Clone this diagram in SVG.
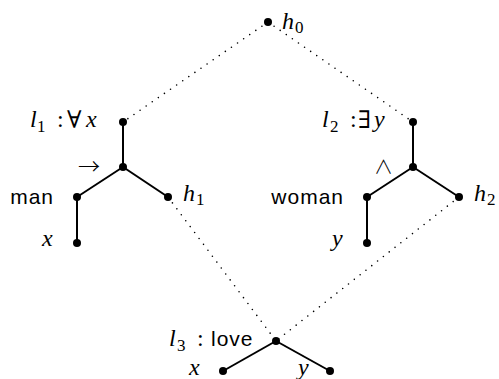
<svg xmlns="http://www.w3.org/2000/svg" width="499" height="379" viewBox="0 0 499 379">
<style>
.m{font-family:"Liberation Serif","DejaVu Serif",serif;font-size:24px;fill:#000}
.i{font-style:italic}
.sub{font-size:17px}
.sym{font-family:"DejaVu Serif","Liberation Serif",serif;font-size:24px}
.cjk{font-family:"Noto Sans CJK JP","DejaVu Sans",sans-serif;font-weight:300;fill:#000}
.s{font-family:"Liberation Sans","DejaVu Sans",sans-serif;font-size:21px;letter-spacing:1px;fill:#000}
.e{stroke:#000;stroke-width:2;fill:none}
.d{stroke:#000;stroke-width:1.6;fill:none;stroke-dasharray:0 7.4;stroke-linecap:round}
circle{fill:#000}
</style>
<rect width="499" height="379" fill="#fff"/>
<g id="connectors">
<line class="d" x1="268" y1="22" x2="123" y2="122"/>
<line class="d" x1="268" y1="22" x2="413" y2="122"/>
<line class="d" x1="168" y1="197" x2="276" y2="341"/>
<line class="d" x1="459" y1="197" x2="276" y2="341"/>
<line class="e" x1="123" y1="122" x2="123" y2="167"/>
<line class="e" x1="123" y1="167" x2="77" y2="197"/>
<line class="e" x1="123" y1="167" x2="168" y2="197"/>
<line class="e" x1="77" y1="197" x2="77" y2="243"/>
<line class="e" x1="413" y1="122" x2="413" y2="167"/>
<line class="e" x1="413" y1="167" x2="367" y2="197"/>
<line class="e" x1="413" y1="167" x2="459" y2="197"/>
<line class="e" x1="367" y1="197" x2="367" y2="243"/>
<line class="e" x1="276" y1="341" x2="223" y2="371"/>
<line class="e" x1="276" y1="341" x2="330" y2="371"/>
</g>
<g id="h0"><circle cx="268" cy="22" r="4"/><text class="m"><tspan class="i" x="282" y="29">h</tspan><tspan class="sub" x="295" y="33">0</tspan></text></g>
<g id="l1"><circle cx="123" cy="122" r="4"/><text class="m"><tspan class="i" x="30" y="127">l</tspan><tspan class="sub" x="37" y="132">1</tspan><tspan x="57" y="127">:</tspan><tspan class="sym" x="67" y="128">∀</tspan><tspan class="i" x="86" y="127">x</tspan></text></g>
<g id="imp"><circle cx="123" cy="167" r="4"/><text class="cjk" x="78" y="174" font-size="22">→</text></g>
<g id="man"><circle cx="77" cy="197" r="4"/><text class="s" x="54" y="204" text-anchor="end">man</text></g>
<g id="x1"><circle cx="77" cy="243" r="4"/><text class="m i" x="42" y="246">x</text></g>
<g id="h1"><circle cx="168" cy="197" r="4"/><text class="m"><tspan class="i" x="183" y="201">h</tspan><tspan class="sub" x="196" y="205">1</tspan></text></g>
<g id="l2"><circle cx="413" cy="122" r="4"/><text class="m"><tspan class="i" x="322" y="127">l</tspan><tspan class="sub" x="330" y="132">2</tspan><tspan x="350" y="127">:</tspan><tspan class="sym" x="358" y="128">∃</tspan><tspan class="i" x="374" y="127">y</tspan></text></g>
<g id="and"><circle cx="413" cy="167" r="4"/><text class="cjk" x="383.5" y="174" text-anchor="middle" font-size="19">∧</text></g>
<g id="woman"><circle cx="367" cy="197" r="4"/><text class="s" x="344" y="204" text-anchor="end">woman</text></g>
<g id="y1"><circle cx="367" cy="243" r="4"/><text class="m i" x="332" y="246">y</text></g>
<g id="h2"><circle cx="459" cy="197" r="4"/><text class="m"><tspan class="i" x="474" y="201">h</tspan><tspan class="sub" x="487" y="205">2</tspan></text></g>
<g id="l3"><circle cx="276" cy="341" r="4"/><text class="m"><tspan class="i" x="169" y="346">l</tspan><tspan class="sub" x="177" y="351">3</tspan><tspan x="197" y="346">:</tspan><tspan class="s" x="211" y="346">love</tspan></text></g>
<g id="x2"><circle cx="223" cy="371" r="4"/><text class="m i" x="189" y="375">x</text></g>
<g id="y2"><circle cx="330" cy="371" r="4"/><text class="m i" x="298" y="375">y</text></g>
</svg>
